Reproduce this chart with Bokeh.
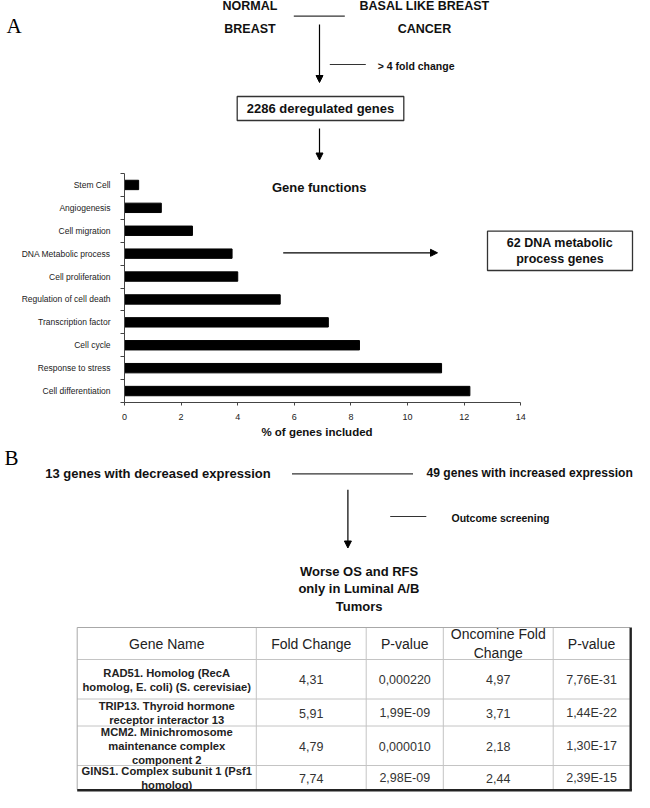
from bokeh.plotting import figure
from bokeh.layouts import column
from bokeh.models import Range1d, Arrow, NormalHead, FixedTicker
from bokeh.core.properties import value
from bokeh.embed import file_html
from bokeh.resources import INLINE

# ---------------- data ----------------
categories = ["Cell differentiation", "Response to stress", "Cell cycle",
              "Transcription factor", "Regulation of cell death",
              "Cell proliferation", "DNA Metabolic process", "Cell migration",
              "Angiogenesis", "Stem Cell"]
percent_genes = [12.2, 11.2, 8.3, 7.2, 5.5, 4.0, 3.8, 2.4, 1.3, 0.5]
x_ticks = [0, 2, 4, 6, 8, 10, 12, 14]
x_title = "% of genes included"

table_headers = ["Gene Name", "Fold Change", "P-value", "Oncomine Fold\nChange", "P-value"]
gene_names = ["RAD51. Homolog (RecA\nhomolog, E. coli) (S. cerevisiae)",
              "TRIP13. Thyroid hormone\nreceptor interactor 13",
              "MCM2. Minichromosome\nmaintenance complex\ncomponent 2",
              "GINS1. Complex subunit 1 (Psf1\nhomolog)"]
fold_change = ["4,31", "5,91", "4,79", "7,74"]
p_value = ["0,000220", "1,99E-09", "0,000010", "2,98E-09"]
oncomine_fold = ["4,97", "3,71", "2,18", "2,44"]
oncomine_p = ["7,76E-31", "1,44E-22", "1,30E-17", "2,39E-15"]

SANS = "Liberation Sans"
SERIF = "Liberation Serif"
W = 634


def txt(p, x, y, s, size, bold=False, align="center", font=SANS, color="#111111", lh=1.2):
    p.text(x=[x], y=[y], text=[s], text_font=value(font), text_font_size=f"{size}px",
           text_font_style="bold" if bold else "normal", text_align=align,
           text_baseline="middle", text_color=color, text_line_height=lh)


def arrow(p, x0, y0, x1, y1):
    p.add_layout(Arrow(end=NormalHead(size=7, fill_color="black", line_color="black", line_width=1),
                       x_start=x0, y_start=y0, x_end=x1, y_end=y1,
                       line_color="black", line_width=1.2))


def blank(y0, y1):
    p = figure(width=W, height=int(y1 - y0), x_range=Range1d(0, W), y_range=Range1d(y1, y0),
               output_backend="svg", toolbar_location=None, x_axis_type=None, y_axis_type=None,
               min_border=0, min_border_left=0, min_border_right=0, min_border_top=0,
               min_border_bottom=0, outline_line_color=None, frame_align=False)
    p.grid.visible = False
    return p


# ---------------- top flow (A) ----------------
top = blank(0, 160)
txt(top, 6, 25, "A", 21, font=SERIF, align="left", color="#000000")
txt(top, 249.5, 5.5, "NORMAL", 12.5, bold=True)
txt(top, 249.5, 28.3, "BREAST", 12.5, bold=True)
txt(top, 424, 5.5, "BASAL LIKE BREAST", 12.5, bold=True)
txt(top, 424, 28.3, "CANCER", 12.5, bold=True)
top.segment(x0=[293.3], y0=[15.7], x1=[344.3], y1=[15.7], line_color="#333333", line_width=1.2)
arrow(top, 319, 24, 319, 82)
top.segment(x0=[329.3], y0=[64], x1=[365.3], y1=[64], line_color="#333333", line_width=1.2)
txt(top, 377.3, 65.3, "> 4 fold change", 10.5, bold=True, align="left")
top.quad(left=[236.7], right=[403.3], top=[96], bottom=[120], fill_color="white",
         line_color="#333333", line_width=1.3)
txt(top, 320, 108.3, "2286 deregulated genes", 13, bold=True)
arrow(top, 319, 128, 319, 159.5)

# ---------------- bar chart ----------------
PX0, PXU = 124.0, 28.31          # pixel of zero and pixels per unit (layout)
FTOP, ROW = 173.0, 22.9


def bx(px):
    return (px - PX0) / PXU


def by(py):
    return (len(categories) - 0.5) - (py - FTOP) / ROW


ypos = list(range(len(categories)))
bar = figure(width=W, height=265, x_range=Range1d(0, bx(W)),
             y_range=Range1d(-0.5, len(categories) - 0.5),
             output_backend="svg", toolbar_location=None,
             min_border_left=124, min_border_right=0, min_border_top=13, min_border_bottom=23,
             outline_line_color=None, frame_align=False)
bar.grid.visible = False
bar.hbar(y=ypos, left=0, right=percent_genes, height=0.41, fill_color="black", line_color="black")

xa = bar.xaxis[0]
xa.ticker = FixedTicker(ticks=x_ticks)
xa.bounds = (min(x_ticks), max(x_ticks))
xa.axis_line_color = "#444444"
xa.major_tick_line_color = "#444444"
xa.major_tick_out = 3
xa.major_tick_in = 0
xa.minor_tick_line_color = None
xa.major_label_standoff = 8
xa.major_label_text_font = SANS
xa.major_label_text_font_size = "9px"
xa.major_label_text_color = "#222222"

ya = bar.yaxis[0]
ya.ticker = FixedTicker(ticks=ypos, minor_ticks=[i - 0.5 for i in range(len(categories) + 1)])
ya.major_label_overrides = {i: c for i, c in zip(ypos, categories)}
ya.axis_line_color = "#444444"
ya.major_tick_line_color = None
ya.major_tick_out = 0
ya.major_tick_in = 0
ya.minor_tick_line_color = "#444444"
ya.minor_tick_out = 4
ya.minor_tick_in = 0
ya.major_label_standoff = 10
ya.major_label_text_font = SANS
ya.major_label_text_font_size = "8.5px"
ya.major_label_text_color = "#222222"

txt(bar, bx(318.7), by(186.7), "Gene functions", 13, bold=True)
arrow(bar, bx(282.7), by(252.3), bx(437), by(252.3))
bar.quad(left=[bx(487)], right=[bx(632)], top=[by(230.7)], bottom=[by(270)],
         fill_color="white", line_color="#333333", line_width=1.3)
txt(bar, bx(559.5), by(250.5), "62 DNA metabolic\nprocess genes", 12.5, bold=True, lh=1.2)

# ---------------- bottom flow + table (B) ----------------
bot = blank(425, 792)
txt(bot, 316.5, 431.8, x_title, 11.5, bold=True)
txt(bot, 4, 457.5, "B", 21, font=SERIF, align="left", color="#000000")
txt(bot, 44.8, 472.7, "13 genes with decreased expression", 13, bold=True, align="left")
bot.segment(x0=[291.5], y0=[473.3], x1=[412.5], y1=[473.3], line_color="#333333", line_width=1.2)
txt(bot, 426, 472.7, "49 genes with increased expression", 12.1, bold=True, align="left")
arrow(bot, 347.4, 489.3, 347.4, 547.5)
bot.segment(x0=[389.7], y0=[516], x1=[425.8], y1=[516], line_color="#333333", line_width=1.2)
txt(bot, 451, 517.7, "Outcome screening", 10.5, bold=True, align="left")
txt(bot, 358.6, 588.5, "Worse OS and RFS\nonly in Luminal A/B\nTumors", 13, bold=True, lh=1.17)

col_edges = [76.7, 255.8, 365.7, 442.8, 552.7, 629.4]
row_edges = [627, 659, 698.5, 725.5, 765, 789]
L, R, T, B = col_edges[0], col_edges[-1], row_edges[0], row_edges[-1]
bot.quad(left=[L], right=[R], top=[T], bottom=[B], fill_color="white", line_color=None)
bot.segment(x0=col_edges[1:-1], y0=[T] * 4, x1=col_edges[1:-1], y1=[B] * 4,
            line_color="#c4c4c4", line_width=1)
bot.segment(x0=[L] * 4, y0=row_edges[1:-1], x1=[R] * 4, y1=row_edges[1:-1],
            line_color="#c4c4c4", line_width=1)
bot.segment(x0=[L, L], y0=[T, T], x1=[R, L], y1=[T, B], line_color="#a8a8a8", line_width=1)
bot.segment(x0=[R + 0.8, L], y0=[T, B + 0.8], x1=[R + 0.8, R + 2], y1=[B + 0.8, B + 0.8],
            line_color="#222222", line_width=2.4)

ccent = [(col_edges[i] + col_edges[i + 1]) / 2 for i in range(5)]
rcent = [(row_edges[i] + row_edges[i + 1]) / 2 for i in range(5)]
for c, h in zip(ccent, table_headers):
    txt(bot, c, rcent[0], h, 14, color="#222222", lh=1.15)
columns = [fold_change, p_value, oncomine_fold, oncomine_p]
for r in range(4):
    yc = rcent[r + 1] + 0.5
    txt(bot, ccent[0], yc, gene_names[r], 11.2, bold=True, color="#222222", lh=1.15)
    for ci, vals in enumerate(columns):
        txt(bot, ccent[ci + 1], yc, vals[r], 12.5, color="#333333")

layout = column(top, bar, bot, spacing=0)
open("out.html", "w").write(file_html(layout, INLINE))
